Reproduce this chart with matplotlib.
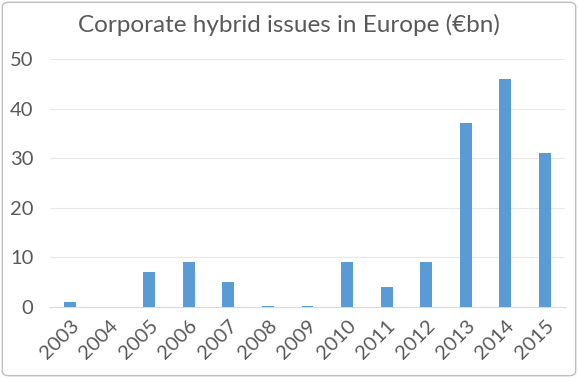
import matplotlib.pyplot as plt
from matplotlib.patches import FancyBboxPatch

years = ['2003', '2004', '2005', '2006', '2007', '2008', '2009',
         '2010', '2011', '2012', '2013', '2014', '2015']
issues = [1, 0, 7, 9, 5, 0.2, 0.2, 9, 4, 9, 37, 46, 31]

plt.rcParams['font.family'] = ['Lato', 'DejaVu Sans']
grey = '#595959'

fig = plt.figure(figsize=(5.78, 3.78), dpi=100)
ax = fig.add_axes([0.087, 0.188, 0.89, 0.656])

x = range(len(years))
ax.bar(x, issues, width=0.3, color='#5B9BD5', zorder=3)

ax.set_ylim(0, 50)
ax.set_xlim(-0.5, len(years) - 0.5)
ax.set_yticks(range(0, 51, 10))
ax.set_xticks(list(x))
ax.set_xticklabels(years, rotation=45, ha='right', rotation_mode='anchor')
ax.tick_params(axis='both', length=0, labelsize=14.5, colors=grey)
ax.tick_params(axis='x', pad=7)
ax.tick_params(axis='y', pad=12)
ax.grid(axis='y', color='#E8E8E8', linewidth=0.8, zorder=0)
for s in ['top', 'right', 'left']:
    ax.spines[s].set_visible(False)
ax.spines['bottom'].set_color('#D9D9D9')

fig.text(0.5, 0.935, 'Corporate hybrid issues in Europe (€bn)',
         ha='center', va='center', fontsize=17.5, color=grey)

# chart border
fig.patches.append(FancyBboxPatch((0.004, 0.006), 0.992, 0.988,
                                  boxstyle='round,pad=0,rounding_size=0.012',
                                  transform=fig.transFigure, fill=False,
                                  edgecolor='#BFBFBF', linewidth=1))

fig.savefig('out.png', dpi=100)
